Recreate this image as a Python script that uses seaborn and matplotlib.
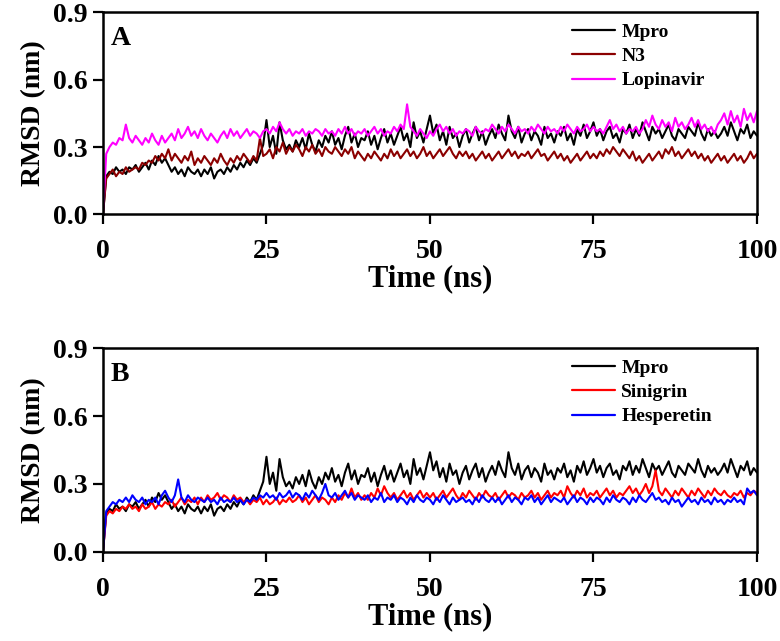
import numpy as np
import pandas as pd
import matplotlib
matplotlib.use("Agg")
import matplotlib.pyplot as plt
import seaborn as sns

# time axis, 0.5 ns sampling
time_ns = np.linspace(0, 100, 201)

# RMSD values (nm)
mpro = [
    0.00, 0.17, 0.19, 0.18, 0.21, 0.19, 0.20, 0.18, 0.21, 0.20,
    0.22, 0.19, 0.21, 0.23, 0.20, 0.24, 0.22, 0.26, 0.23, 0.25,
    0.22, 0.19, 0.21, 0.18, 0.20, 0.17, 0.21, 0.19, 0.18, 0.20,
    0.17, 0.20, 0.18, 0.21, 0.16, 0.19, 0.20, 0.18, 0.21, 0.19,
    0.22, 0.20, 0.23, 0.21, 0.24, 0.22, 0.25, 0.23, 0.27, 0.31,
    0.42, 0.30, 0.35, 0.27, 0.41, 0.33, 0.29, 0.31, 0.28, 0.33,
    0.30, 0.34, 0.29, 0.36, 0.31, 0.28, 0.33, 0.30, 0.35, 0.32,
    0.37, 0.31, 0.34, 0.29, 0.35, 0.39, 0.32, 0.36, 0.30, 0.34,
    0.33, 0.37, 0.31, 0.35, 0.29, 0.34, 0.38, 0.32, 0.36, 0.31,
    0.35, 0.39, 0.33, 0.36, 0.30, 0.41, 0.34, 0.37, 0.32, 0.38,
    0.44, 0.36, 0.40, 0.33, 0.37, 0.31, 0.39, 0.34, 0.36, 0.30,
    0.35, 0.38, 0.32, 0.36, 0.39, 0.33, 0.37, 0.31, 0.35, 0.38,
    0.34, 0.40, 0.36, 0.33, 0.44, 0.37, 0.34, 0.39, 0.32, 0.36,
    0.38, 0.33, 0.37, 0.35, 0.31, 0.39, 0.34, 0.36, 0.32, 0.37,
    0.35, 0.39, 0.33, 0.36, 0.31, 0.38, 0.35, 0.40, 0.34, 0.37,
    0.41, 0.35, 0.38, 0.33, 0.37, 0.39, 0.34, 0.36, 0.32, 0.38,
    0.36, 0.40, 0.34, 0.38, 0.35, 0.41, 0.37, 0.33, 0.39, 0.36,
    0.38, 0.34, 0.37, 0.40, 0.35, 0.33, 0.38, 0.36, 0.34, 0.39,
    0.37, 0.35, 0.41, 0.36, 0.33, 0.38, 0.35, 0.37, 0.34, 0.36,
    0.39, 0.35, 0.41, 0.37, 0.33, 0.38, 0.36, 0.40, 0.34, 0.37, 0.35,
]

n3 = [
    0.00, 0.16, 0.18, 0.20, 0.17, 0.19, 0.18, 0.21, 0.19, 0.20,
    0.21, 0.20, 0.23, 0.22, 0.24, 0.23, 0.26, 0.24, 0.27, 0.25,
    0.29, 0.24, 0.27, 0.25, 0.23, 0.26, 0.24, 0.28, 0.22, 0.25,
    0.23, 0.26, 0.24, 0.22, 0.25, 0.23, 0.27, 0.24, 0.22, 0.25,
    0.23, 0.26, 0.24, 0.27, 0.25, 0.23, 0.26, 0.24, 0.34, 0.26,
    0.27, 0.29, 0.25, 0.30, 0.28, 0.32, 0.27, 0.30, 0.28, 0.31,
    0.29, 0.26, 0.30, 0.28, 0.31, 0.27, 0.29, 0.26, 0.30, 0.28,
    0.27, 0.30, 0.28, 0.26, 0.29, 0.27, 0.30, 0.25, 0.28, 0.26,
    0.24, 0.27, 0.25, 0.28, 0.26, 0.24, 0.27, 0.25, 0.29, 0.26,
    0.28, 0.25, 0.27, 0.29, 0.26, 0.28, 0.25, 0.27, 0.30, 0.26,
    0.28, 0.25, 0.27, 0.29, 0.26, 0.28, 0.30, 0.27, 0.25, 0.28,
    0.26, 0.28, 0.25, 0.27, 0.24, 0.26, 0.28, 0.25, 0.27, 0.24,
    0.26, 0.28, 0.25, 0.27, 0.29, 0.26, 0.28, 0.25, 0.27, 0.26,
    0.28, 0.25, 0.27, 0.29, 0.26, 0.27, 0.24, 0.26, 0.28, 0.25,
    0.27, 0.24, 0.26, 0.23, 0.25, 0.27, 0.24, 0.26, 0.28, 0.25,
    0.27, 0.25, 0.28, 0.26, 0.29, 0.27, 0.30, 0.28, 0.26, 0.29,
    0.27, 0.25, 0.28, 0.24, 0.26, 0.23, 0.25, 0.27, 0.24, 0.26,
    0.28, 0.25, 0.29, 0.27, 0.30, 0.26, 0.28, 0.25, 0.27, 0.29,
    0.26, 0.28, 0.25, 0.27, 0.24, 0.26, 0.23, 0.25, 0.27, 0.24,
    0.26, 0.23, 0.25, 0.27, 0.24, 0.26, 0.23, 0.25, 0.28, 0.25, 0.27,
]

lopinavir = [
    0.00, 0.27, 0.30, 0.32, 0.31, 0.34, 0.33, 0.40, 0.34, 0.32,
    0.35, 0.33, 0.31, 0.34, 0.32, 0.36, 0.33, 0.31, 0.35, 0.32,
    0.34, 0.36, 0.33, 0.38, 0.34, 0.36, 0.39, 0.35, 0.37, 0.34,
    0.38, 0.35, 0.33, 0.36, 0.34, 0.32, 0.35, 0.37, 0.34, 0.38,
    0.35, 0.37, 0.34, 0.36, 0.38, 0.35, 0.37, 0.36, 0.34, 0.37,
    0.38, 0.36, 0.39, 0.37, 0.41, 0.38, 0.36, 0.38, 0.35, 0.37,
    0.36, 0.38, 0.35, 0.37, 0.36, 0.38, 0.37, 0.35, 0.38, 0.36,
    0.37, 0.35, 0.38, 0.36, 0.39, 0.36, 0.38, 0.35, 0.37, 0.36,
    0.38, 0.35, 0.37, 0.39, 0.36, 0.38, 0.35, 0.37, 0.36, 0.39,
    0.37, 0.40, 0.38, 0.49, 0.39, 0.37, 0.35, 0.38, 0.36, 0.34,
    0.37, 0.35, 0.38, 0.40, 0.37, 0.39, 0.36, 0.38, 0.35, 0.37,
    0.36, 0.38, 0.37, 0.35, 0.39, 0.37, 0.36, 0.38, 0.37, 0.40,
    0.38, 0.36, 0.39, 0.37, 0.40, 0.38, 0.36, 0.39, 0.37, 0.38,
    0.36, 0.39, 0.37, 0.40, 0.38, 0.36, 0.39, 0.37, 0.38, 0.36,
    0.39, 0.37, 0.40, 0.38, 0.36, 0.39, 0.37, 0.38, 0.40, 0.37,
    0.39, 0.37, 0.38, 0.36, 0.39, 0.42, 0.38, 0.40, 0.37, 0.39,
    0.36, 0.38, 0.37, 0.39, 0.36, 0.38, 0.42, 0.39, 0.44, 0.40,
    0.38, 0.42, 0.39, 0.41, 0.37, 0.43, 0.39, 0.41, 0.38, 0.40,
    0.43, 0.39, 0.42, 0.38, 0.40, 0.37, 0.39, 0.36, 0.40, 0.42,
    0.45, 0.40, 0.46, 0.41, 0.44, 0.39, 0.47, 0.42, 0.45, 0.41, 0.46,
]

sinigrin = [
    0.00, 0.16, 0.18, 0.17, 0.19, 0.18, 0.20, 0.19, 0.21, 0.19,
    0.20, 0.18, 0.21, 0.19, 0.20, 0.22, 0.19, 0.21, 0.20, 0.22,
    0.21, 0.23, 0.20, 0.22, 0.24, 0.21, 0.23, 0.22, 0.24, 0.21,
    0.24, 0.22, 0.25, 0.23, 0.24, 0.26, 0.23, 0.25, 0.24, 0.22,
    0.25, 0.23, 0.24, 0.22, 0.23, 0.21, 0.23, 0.22, 0.24, 0.21,
    0.23, 0.21, 0.22, 0.24, 0.21, 0.23, 0.22, 0.24, 0.22, 0.23,
    0.25, 0.22, 0.24, 0.21, 0.23, 0.25, 0.22, 0.24, 0.23, 0.21,
    0.24, 0.22, 0.25, 0.23, 0.26, 0.24, 0.28, 0.24, 0.26, 0.23,
    0.25, 0.23, 0.26, 0.24, 0.28, 0.25, 0.29, 0.26, 0.24, 0.26,
    0.23, 0.25, 0.27, 0.24, 0.26, 0.23, 0.25, 0.27, 0.24, 0.26,
    0.24, 0.26, 0.23, 0.25, 0.27, 0.24, 0.26, 0.28, 0.25, 0.23,
    0.26, 0.24, 0.27, 0.25, 0.23, 0.26, 0.24, 0.27, 0.25, 0.24,
    0.26, 0.23, 0.25, 0.27, 0.24, 0.26, 0.25, 0.23, 0.26, 0.24,
    0.25, 0.27, 0.24, 0.26, 0.23, 0.25, 0.27, 0.24, 0.26, 0.25,
    0.27, 0.24, 0.29, 0.26, 0.24, 0.27, 0.25, 0.28, 0.24, 0.26,
    0.25, 0.27, 0.24, 0.26, 0.28, 0.25, 0.27, 0.24, 0.26, 0.25,
    0.27, 0.29, 0.26, 0.28, 0.25, 0.27, 0.30, 0.26, 0.29, 0.36,
    0.27, 0.25, 0.28, 0.26, 0.24, 0.27, 0.25, 0.28, 0.26, 0.24,
    0.27, 0.25, 0.28, 0.26, 0.24, 0.27, 0.25, 0.28, 0.26, 0.25,
    0.27, 0.25, 0.24, 0.26, 0.25, 0.27, 0.24, 0.26, 0.25, 0.27, 0.26,
]

hesperetin = [
    0.00, 0.18, 0.20, 0.22, 0.21, 0.23, 0.22, 0.24, 0.22, 0.25,
    0.23, 0.22, 0.24, 0.21, 0.23, 0.22, 0.24, 0.21, 0.25, 0.27,
    0.24, 0.22, 0.25, 0.32, 0.24, 0.22, 0.25, 0.23, 0.22, 0.24,
    0.23, 0.22, 0.24, 0.22, 0.23, 0.21, 0.24, 0.22, 0.23, 0.22,
    0.24, 0.22, 0.23, 0.21, 0.23, 0.22, 0.24, 0.23, 0.25, 0.24,
    0.26, 0.24, 0.25, 0.23, 0.26, 0.24, 0.25, 0.27, 0.24, 0.26,
    0.25, 0.23, 0.26, 0.24, 0.27, 0.25, 0.23, 0.26, 0.30, 0.25,
    0.24, 0.26, 0.23, 0.25, 0.27, 0.24, 0.26, 0.23, 0.25, 0.24,
    0.23, 0.25, 0.22, 0.24, 0.23, 0.26, 0.22, 0.24, 0.23, 0.25,
    0.22, 0.24, 0.23, 0.21, 0.24, 0.22, 0.25, 0.23, 0.22, 0.24,
    0.23, 0.21, 0.24, 0.22, 0.25, 0.23, 0.21, 0.24, 0.22, 0.23,
    0.24, 0.22, 0.23, 0.21, 0.24, 0.22, 0.25, 0.23, 0.22, 0.24,
    0.22, 0.24, 0.21, 0.23, 0.25, 0.22, 0.24, 0.23, 0.21, 0.24,
    0.23, 0.25, 0.22, 0.24, 0.21, 0.23, 0.25, 0.22, 0.24, 0.23,
    0.22, 0.24, 0.21, 0.23, 0.25, 0.22, 0.24, 0.23, 0.21, 0.24,
    0.22, 0.24, 0.23, 0.21, 0.24, 0.22, 0.25, 0.23, 0.22, 0.24,
    0.23, 0.21, 0.24, 0.22, 0.25, 0.23, 0.22, 0.24, 0.26, 0.23,
    0.24, 0.22, 0.23, 0.21, 0.24, 0.22, 0.23, 0.20, 0.22, 0.24,
    0.22, 0.23, 0.21, 0.24, 0.22, 0.23, 0.21, 0.24, 0.22, 0.23,
    0.21, 0.23, 0.22, 0.24, 0.22, 0.23, 0.21, 0.28, 0.26, 0.27, 0.25,
]

panel_a = {"Mpro": mpro, "N3": n3, "Lopinavir": lopinavir}
panel_b = {"Mpro": mpro, "Sinigrin": sinigrin, "Hesperetin": hesperetin}
colors_a = ["#000000", "#8b0000", "#ff00ff"]
colors_b = ["#000000", "#ff0000", "#0000ff"]

sns.set_style("ticks", {"axes.edgecolor": "black", "text.color": "black",
                        "axes.labelcolor": "black", "xtick.color": "black",
                        "ytick.color": "black"})
plt.rcParams["font.family"] = ["Liberation Serif", "DejaVu Serif"]
plt.rcParams["font.weight"] = "bold"

fig = plt.figure(figsize=(7.8, 6.41), dpi=100)
ax_a = fig.add_axes([0.132, 0.6654, 0.8385, 0.3156])
ax_b = fig.add_axes([0.132, 0.139, 0.8385, 0.318])


def draw_panel(ax, series, colors, letter):
    df = pd.DataFrame({"time": np.tile(time_ns, len(series)),
                       "rmsd": np.concatenate([series[k] for k in series]),
                       "name": np.repeat(list(series.keys()), len(time_ns))})
    sns.lineplot(data=df, x="time", y="rmsd", hue="name", palette=colors,
                 estimator=None, sort=False, lw=1.5, ax=ax)
    ax.set_xlim(0, 100)
    ax.set_ylim(0, 0.9)
    ax.set_xticks([0, 25, 50, 75, 100])
    ax.set_yticks([0.0, 0.3, 0.6, 0.9])
    ax.set_yticklabels(["0.0", "0.3", "0.6", "0.9"])
    ax.set_xlabel("Time (ns)", fontsize=22, fontweight="bold", labelpad=0)
    ax.set_ylabel("RMSD (nm)", fontsize=20, fontweight="bold", labelpad=5)
    ax.tick_params(axis="both", direction="out", length=7, width=1.6,
                   labelsize=20, pad=4, colors="black")
    ax.tick_params(axis="x", pad=11)
    for lab in ax.get_xticklabels() + ax.get_yticklabels():
        lab.set_fontweight("bold")
    for sp in ax.spines.values():
        sp.set_visible(True)
        sp.set_linewidth(1.8)
        sp.set_color("black")
    ax.text(0.012, 0.93, letter, transform=ax.transAxes, fontsize=20,
            fontweight="bold", va="top", ha="left")
    leg = ax.legend(loc="upper left", bbox_to_anchor=(0.705, 0.985), frameon=False,
                    prop={"size": 14, "weight": "bold"}, handlelength=2.2,
                    handletextpad=0.35, labelspacing=0.35, borderaxespad=0)
    for h in leg.get_lines():
        h.set_linewidth(1.6)


draw_panel(ax_a, panel_a, colors_a, "A")
draw_panel(ax_b, panel_b, colors_b, "B")

fig.savefig("out.png", dpi=100)
